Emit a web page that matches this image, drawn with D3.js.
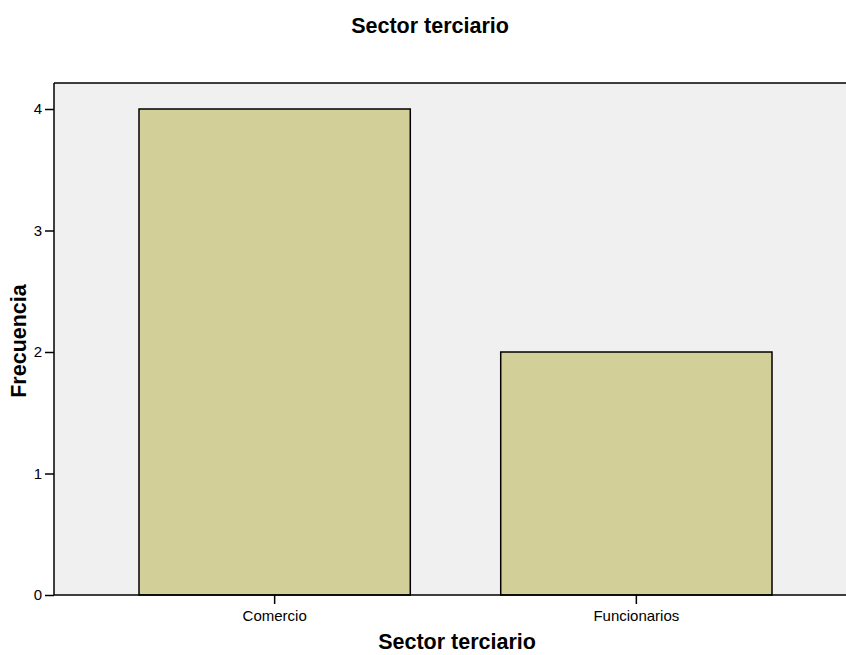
<!DOCTYPE html>
<html><head><meta charset="utf-8">
<script src="https://cdn.jsdelivr.net/npm/d3@7"></script>
<style>body{margin:0;background:#fff;} text{font-family:"Liberation Sans",Arial,sans-serif;}</style>
</head><body>
<svg id="c" width="846" height="655"></svg>
<script>
const categories = ["Comercio", "Funcionarios"];
const values = [4, 2];
const yTicks = [0, 1, 2, 3, 4];
const title = "Sector terciario";
const xTitle = "Sector terciario";
const yTitle = "Frecuencia";

const svg = d3.select("#c");
const L = 54, R = 846, T = 83, B = 595;
const x = d3.scaleBand().domain(categories).range([L, 857]).paddingInner(0.25).paddingOuter(0.235);
const y = d3.scaleLinear().domain([0, 4.214]).range([B, T]);

svg.append("rect").attr("x", L).attr("y", T).attr("width", R - L).attr("height", B - T).attr("fill", "#f0f0f0");

svg.selectAll("rect.bar").data(values).enter().append("rect").attr("class", "bar")
  .attr("x", (d, i) => x(categories[i])).attr("y", d => y(d))
  .attr("width", x.bandwidth()).attr("height", d => B - y(d))
  .attr("fill", "#d3cf98").attr("stroke", "#000").attr("stroke-width", 1.5);

svg.append("line").attr("x1", L).attr("x2", R).attr("y1", T).attr("y2", T).attr("stroke", "#000").attr("stroke-width", 1.5);
svg.append("line").attr("x1", L).attr("x2", L).attr("y1", T).attr("y2", B).attr("stroke", "#000").attr("stroke-width", 1.5);
svg.append("line").attr("x1", L).attr("x2", R).attr("y1", B).attr("y2", B).attr("stroke", "#000").attr("stroke-width", 1.5);

const ya = svg.append("g").attr("transform", `translate(${L},0)`)
  .call(d3.axisLeft(y).tickValues(yTicks).tickFormat(d3.format("d")).tickSize(9).tickPadding(3));
ya.select(".domain").remove();
ya.selectAll("line").attr("stroke", "#000").attr("stroke-width", 1.5);
ya.selectAll("text").attr("font-size", 15).attr("fill", "#000").style("font-family", "Liberation Sans, Arial, sans-serif");

const xa = svg.append("g").attr("transform", `translate(0,${B})`)
  .call(d3.axisBottom(x).tickSize(9).tickPadding(6));
xa.select(".domain").remove();
xa.selectAll("line").attr("stroke", "#000").attr("stroke-width", 1.5);
xa.selectAll("text").attr("font-size", 15).attr("fill", "#000").style("font-family", "Liberation Sans, Arial, sans-serif");

svg.append("text").attr("x", 430).attr("y", 33).attr("text-anchor", "middle")
  .attr("font-size", 21.5).attr("font-weight", "bold").text(title);
svg.append("text").attr("x", 457).attr("y", 649).attr("text-anchor", "middle")
  .attr("font-size", 21.5).attr("font-weight", "bold").text(xTitle);
svg.append("text").attr("transform", `translate(26,${(T + B) / 2 + 2}) rotate(-90)`).attr("text-anchor", "middle")
  .attr("font-size", 21.5).attr("font-weight", "bold").text(yTitle);
</script>
</body></html>
